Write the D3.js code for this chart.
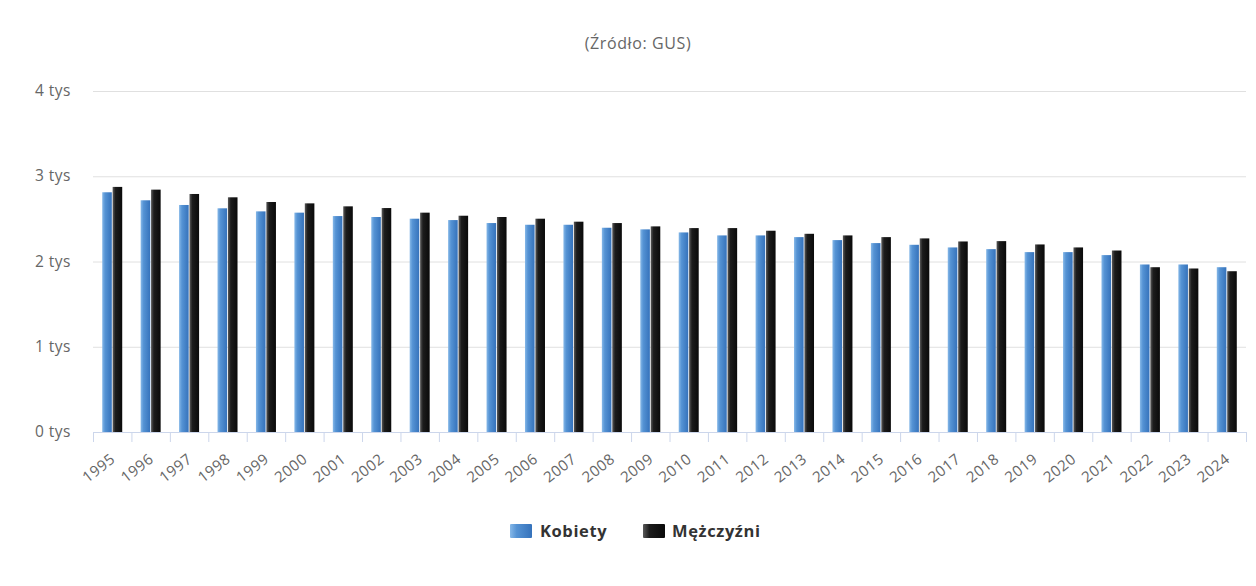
<!DOCTYPE html>
<html><head><meta charset="utf-8">
<script src="https://cdn.jsdelivr.net/npm/d3@7"></script>
<style>body{margin:0;background:#fff;font-family:"Open Sans","Lato",sans-serif;}</style>
</head><body>
<svg id="c" width="1256" height="586"></svg>
<script>
const years = ["1995","1996","1997","1998","1999","2000","2001","2002","2003","2004","2005","2006","2007","2008","2009","2010","2011","2012","2013","2014","2015","2016","2017","2018","2019","2020","2021","2022","2023","2024"];
const kobiety = [2812,2718,2663,2624,2588,2573,2533,2522,2502,2486,2451,2431,2431,2396,2377,2341,2306,2306,2286,2251,2216,2196,2165,2145,2110,2110,2075,1965,1965,1933];
const mezczyzni = [2875,2843,2792,2753,2698,2682,2647,2627,2573,2537,2522,2502,2467,2451,2412,2392,2392,2361,2325,2306,2286,2271,2235,2239,2200,2165,2129,1933,1918,1886];
const yTicks = [0,1000,2000,3000,4000];
const seriesNames = ["Kobiety","Mężczyźni"];

const svg = d3.select("#c");
const pL = 93, pR = 1246, pT = 91, pB = 432;
const x = d3.scaleBand().domain(years).range([pL,pR]).padding(0);
const y = d3.scaleLinear().domain([0,4000]).range([pB,pT]);
const xs = d3.scaleBand().domain(seriesNames).range([0,20]).paddingInner(0.08);

const defs = svg.append("defs");
const g1 = defs.append("linearGradient").attr("id","gK").attr("x1","0").attr("x2","1").attr("y1","0").attr("y2","0");
g1.append("stop").attr("offset","0").attr("stop-color","#86b8e8");
g1.append("stop").attr("offset","0.3").attr("stop-color","#5593d4");
g1.append("stop").attr("offset","1").attr("stop-color","#3572bb");
const g2 = defs.append("linearGradient").attr("id","gM").attr("x1","0").attr("x2","1").attr("y1","0").attr("y2","0");
g2.append("stop").attr("offset","0").attr("stop-color","#5a5a5a");
g2.append("stop").attr("offset","0.3").attr("stop-color","#1c1c1c");
g2.append("stop").attr("offset","1").attr("stop-color","#0a0a0a");

// subtitle
svg.append("text").attr("x",638).attr("y",49).attr("text-anchor","middle")
  .attr("fill","#666").style("font-size","16px").style("letter-spacing","0.6px").text("(Źródło: GUS)");

// grid
svg.append("g").selectAll("line").data(yTicks.filter(d=>d>0)).join("line")
  .attr("x1",pL).attr("x2",pR).attr("y1",d=>y(d)+0.5).attr("y2",d=>y(d)+0.5)
  .attr("stroke","#e0e0e0").attr("stroke-width",1);

// y labels
svg.append("g").selectAll("text").data(yTicks).join("text")
  .attr("x",71).attr("y",d=>y(d)+5).attr("text-anchor","end")
  .attr("fill","#666").style("font-size","15.5px").style("letter-spacing","0.5px").text(d=>(d/1000)+" tys");

// bars
const data = years.map((yr,i)=>({yr, vals:[kobiety[i],mezczyzni[i]]}));
const grp = svg.append("g").selectAll("g").data(data).join("g")
  .attr("transform",d=>`translate(${x(d.yr)+x.bandwidth()/2-10},0)`);
grp.selectAll("rect").data(d=>d.vals.map((v,j)=>({s:seriesNames[j],v}))).join("rect")
  .attr("x",d=>xs(d.s)).attr("width",xs.bandwidth())
  .attr("y",d=>y(d.v)).attr("height",d=>pB-y(d.v))
  .attr("fill",d=>d.s==="Kobiety"?"url(#gK)":"url(#gM)");

// x axis
const xAxis = d3.axisBottom(x).tickSize(0).tickFormat(d=>d);
const ax = svg.append("g").attr("transform",`translate(0,${pB})`).call(xAxis);
ax.select(".domain").attr("stroke","#ccd6eb");
ax.selectAll("text").attr("fill","#666").style("font-size","15px").style("font-family","Open Sans, Lato, sans-serif")
  .style("letter-spacing","0.5px")
  .attr("text-anchor","end").attr("dy",null).attr("y",0)
  .attr("transform","translate(4,29) rotate(-38)");
// tick marks at band boundaries
const bounds = years.map(yr=>x(yr)).concat([pR]);
svg.append("g").selectAll("line").data(bounds).join("line")
  .attr("x1",d=>d+0.5).attr("x2",d=>d+0.5).attr("y1",pB).attr("y2",pB+10)
  .attr("stroke","#ccd6eb");

// legend
const legend = [{name:"Kobiety",fill:"url(#gK)",x:510,tx:540},{name:"Mężczyźni",fill:"url(#gM)",x:643,tx:672}];
const lg = svg.append("g");
lg.selectAll("rect").data(legend).join("rect")
  .attr("x",d=>d.x).attr("y",524).attr("width",22).attr("height",14).attr("rx",1)
  .attr("fill",d=>d.fill);
lg.selectAll("text").data(legend).join("text")
  .attr("x",d=>d.tx).attr("y",537).attr("fill","#333")
  .style("font-size","16.5px").style("font-weight","bold").style("letter-spacing","0.6px").text(d=>d.name);
</script>
</body></html>
